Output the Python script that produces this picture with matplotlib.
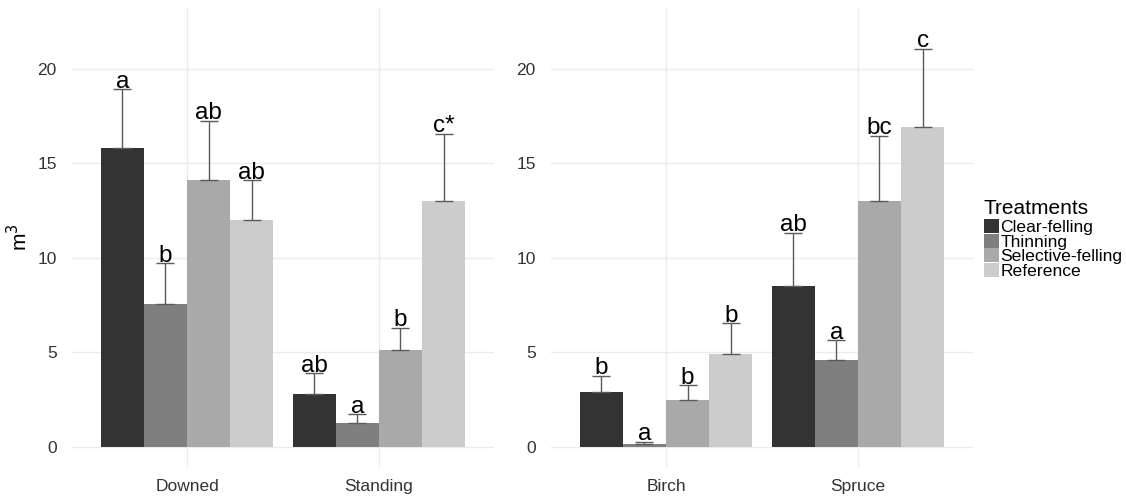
import numpy as np
import matplotlib.pyplot as plt
from matplotlib.patches import Rectangle

plt.rcParams["font.family"] = ["Liberation Sans", "DejaVu Sans"]

treatments = ["Clear-felling", "Thinning", "Selective-felling", "Reference"]
colors = ["#333333", "#7F7F7F", "#A9A9A9", "#CCCCCC"]

# left panel: deadwood type
left_cats = ["Downed", "Standing"]
left_mean = {
    "Clear-felling": [15.78, 2.80],
    "Thinning": [7.55, 1.25],
    "Selective-felling": [14.10, 5.12],
    "Reference": [12.00, 13.00],
}
left_upper = {
    "Clear-felling": [18.90, 3.90],
    "Thinning": [9.70, 1.74],
    "Selective-felling": [17.25, 6.30],
    "Reference": [14.10, 16.55],
}
left_letters = {
    "Clear-felling": ["a", "ab"],
    "Thinning": ["b", "a"],
    "Selective-felling": ["ab", "b"],
    "Reference": ["ab", "c*"],
}

# right panel: tree species
right_cats = ["Birch", "Spruce"]
right_mean = {
    "Clear-felling": [2.89, 8.50],
    "Thinning": [0.16, 4.60],
    "Selective-felling": [2.48, 12.98],
    "Reference": [4.91, 16.90],
}
right_upper = {
    "Clear-felling": [3.76, 11.33],
    "Thinning": [0.28, 5.65],
    "Selective-felling": [3.27, 16.46],
    "Reference": [6.53, 21.04],
}
right_letters = {
    "Clear-felling": ["b", "ab"],
    "Thinning": ["a", "a"],
    "Selective-felling": ["b", "bc"],
    "Reference": ["b", "c"],
}

yticks = [0, 5, 10, 15, 20]

W, H = 1126, 496
fig = plt.figure(figsize=(W / 100, H / 100), dpi=100)
ax1 = fig.add_axes([0.0639, 0.0585, 0.3748, 0.9255])
ax2 = fig.add_axes([0.4893, 0.0585, 0.3748, 0.9255])

width = 0.225
offsets = [-1.5 * width, -0.5 * width, 0.5 * width, 1.5 * width]


def draw_panel(ax, cats, means, uppers, letters):
    x = np.arange(len(cats))
    for i, t in enumerate(treatments):
        pos = x + offsets[i]
        m = np.array(means[t])
        up = np.array(uppers[t])
        ax.bar(pos, m, width=width, color=colors[i], label=t, zorder=2)
        ax.errorbar(pos, m, yerr=[np.zeros_like(m), up - m], fmt="none",
                    ecolor="#5a5a5a", elinewidth=1.0, capsize=6.3,
                    capthick=1.0, zorder=3)
        for xp, yp, lab in zip(pos, up, letters[t]):
            ax.text(xp, yp + 0.08, lab, ha="center", va="baseline",
                    fontsize=17.5, color="black", zorder=4)
    ax.set_xlim(-0.6, len(cats) - 0.4)
    ax.set_ylim(-1.05, 23.2)
    ax.set_xticks(x)
    ax.set_xticklabels(cats)
    ax.set_yticks(yticks)
    ax.grid(True, color="#ebebeb", linewidth=1.0, zorder=0)
    ax.set_axisbelow(True)
    for s in ax.spines.values():
        s.set_visible(False)
    ax.tick_params(axis="both", length=0, labelsize=12.5, colors="#333333")
    ax.tick_params(axis="y", pad=11)
    ax.tick_params(axis="x", pad=8.5)


draw_panel(ax1, left_cats, left_mean, left_upper, left_letters)
draw_panel(ax2, right_cats, right_mean, right_upper, right_letters)

ax1.set_ylabel("m$^3$", fontsize=15, labelpad=4)

# legend, drawn by hand to get the tightly packed ggplot look
leg_x = 984
key_w, key_h, row_h = 15, 14, 14.6
first_top = 219
fig.text(leg_x / W, 1 - 214 / H, "Treatments", fontsize=15,
         ha="left", va="baseline")
for i, t in enumerate(treatments):
    top = first_top + i * row_h
    fig.add_artist(Rectangle((leg_x / W, 1 - (top + key_h) / H),
                             key_w / W, key_h / H, transform=fig.transFigure,
                             facecolor=colors[i], edgecolor="none"))
    fig.text((leg_x + key_w + 1.5) / W, 1 - (top + key_h / 2) / H, t,
             fontsize=12.6, ha="left", va="center_baseline")

fig.savefig("out.png", dpi=100)
